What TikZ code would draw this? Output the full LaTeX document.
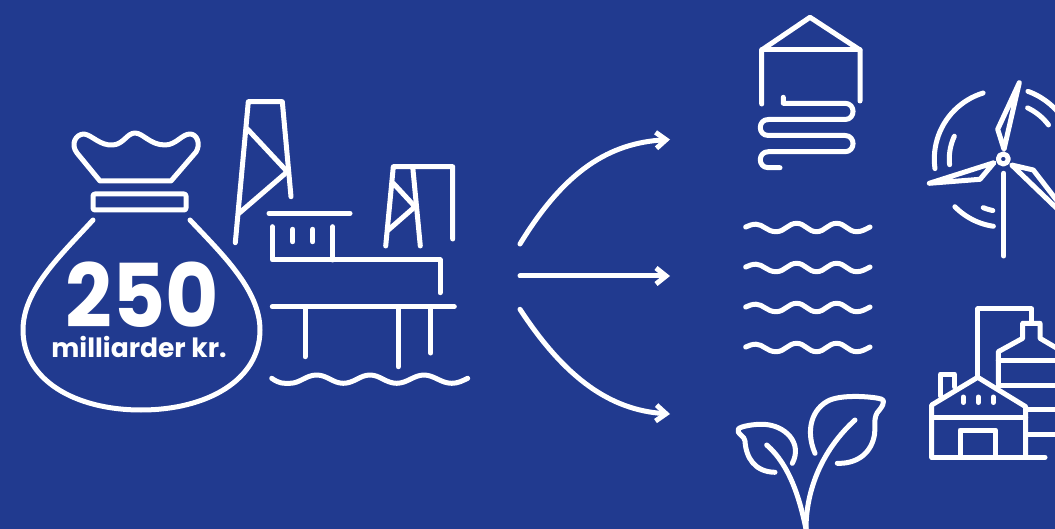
\documentclass[tikz,border=0pt]{standalone}
\usepackage{fontspec}
\setmainfont{Poppins}
\usetikzlibrary{arrows.meta}
\definecolor{bgblue}{RGB}{33,58,143}
\tikzset{
  ln/.style={draw=white,line width=5pt,line cap=round,line join=round},
  arrowline/.style={ln,-{Straight Barb[length=10pt,width=16pt,line width=5pt]}},
  bigtxt/.style={text=white,inner sep=0pt,anchor=base,xscale=0.93,font=\bfseries\fontsize{88}{88}\selectfont},
  smalltxt/.style={text=white,inner sep=0pt,anchor=base,font=\bfseries\fontsize{26.5}{27}\selectfont}
}
\newcommand{\seawave}[1]{%
  \begin{scope}[shift={(0,#1)}]
  \draw[ln] (745.7,0) .. controls (749,-1.5) and (752,-2.8) .. (756,-2.8)
     .. controls (763,-2.8) and (767,4.7) .. (776,4.7)
     .. controls (785,4.7) and (788,-3.7) .. (796.7,-3.7)
     .. controls (805,-3.7) and (808,4.7) .. (816.5,4.7)
     .. controls (825,4.7) and (828,-3.7) .. (836.7,-3.7)
     .. controls (845,-3.7) and (848,4.7) .. (856.7,4.7)
     .. controls (862,4.7) and (866,2) .. (870,0);
  \end{scope}}
\newcommand{\turbarc}[3]{\draw[ln] plot[domain=#2:#3,samples=24] ({1003.3+#1*cos(\x)},{159-#1*sin(\x)});}
\begin{document}
\begin{tikzpicture}[x=1pt,y=-1pt]
\useasboundingbox (0,0) rectangle (1055,529);
\fill[bgblue] (0,0) rectangle (1055,529);
\clip (0,0) rectangle (1055,529);

% money bag
\draw[ln] (100,181) -- (77,153) .. controls (70,144) and (76,134) .. (84,134)
  .. controls (92,135) and (100,146) .. (113,145)
  .. controls (124,144) and (127,133) .. (135,133)
  .. controls (143,133) and (150,145) .. (165,145)
  .. controls (176,145) and (182,134) .. (190,134)
  .. controls (197,134) and (201,144) .. (196,152) -- (171,181) -- cycle;
\draw[ln,rounded corners=2pt] (93,194) rectangle (186,210);
\draw[ln] (93,220) .. controls (60,256) and (23,290) .. (23,330)
  .. controls (23,380) and (75,410) .. (141,410)
  .. controls (207,410) and (260,380) .. (260,330)
  .. controls (260,290) and (222,254) .. (190,220);
\node[bigtxt] (amount) at (142.5,328) {250};
\node[smalltxt] (unit) at (139,358) {milliarder kr.};

% oil platform
\draw[ln] (235.3,242.7) -- (248.3,101.7) -- (282.3,101.7) -- (291,196.7);
\draw[ln] (247.7,129.3) -- (287.3,171.7) -- (239,213.3);
\draw[ln] (269,213.3) -- (350,213.3);
\draw[ln] (272.3,226.7) -- (272.3,260) -- (440,260) -- (440,292.7);
\draw[ln] (332.7,226.7) -- (332.7,260);
\draw[ln] (292.7,229.3) -- (292.7,241.7);
\draw[ln] (312.7,229.3) -- (312.7,241.7);
\draw[ln] (385.7,246) -- (393.3,166.7) -- (452.7,166.7) -- (452.7,239);
\draw[ln] (412.7,166.7) -- (420.3,246);
\draw[ln] (393.3,183.3) -- (415,206.7) -- (388.3,230);
\draw[ln] (272.3,306.7) -- (454.3,306.7);
\draw[ln] (305,306.7) -- (305,356.7);
\draw[ln] (398.3,306.7) -- (398.3,366.7);
\draw[ln] (430.7,306.7) -- (430.7,353);
\draw[ln] (271.7,378.3) .. controls (280,384) and (283,383.3) .. (290,383.3)
  .. controls (300,383.3) and (306,375) .. (316.7,375)
  .. controls (327,375) and (333,383.3) .. (343.3,383.3)
  .. controls (354,383.3) and (360,375) .. (370,375)
  .. controls (380,375) and (386,383.3) .. (396.7,383.3)
  .. controls (407,383.3) and (414,375) .. (424,375)
  .. controls (434,375) and (441,383.3) .. (451.7,383.3)
  .. controls (458,383.3) and (462,381) .. (467.7,378.3);

% arrows
\coordinate (a1s) at (520,244);
\coordinate (a1e) at (670,139.5);
\coordinate (a2s) at (520,276);
\coordinate (a2e) at (670,276);
\coordinate (a3s) at (520,309.3);
\coordinate (a3e) at (670,414);
\draw[arrowline] (a1s) .. controls (565,170) and (610,143) .. (a1e);
\draw[arrowline] (a2s) -- (a2e);
\draw[arrowline] (a3s) .. controls (565,378) and (610,410) .. (a3e);

% house with ground coil
\draw[ln] (761.7,104) -- (761.7,50) -- (810,17.3) -- (860,50) -- (860,101);
\draw[ln] (761.7,50) -- (860,50);
\draw[ln] (783.3,97.3) -- (783.3,103.3) -- (845,103.3)
  .. controls (855.7,103.3) and (855.7,119.5) .. (845,119.5)
  -- (768.3,119.5)
  .. controls (757.6,119.5) and (757.6,135.5) .. (768.3,135.5)
  -- (845,135.5)
  .. controls (855.7,135.5) and (855.7,151.7) .. (845,151.7)
  -- (768.3,151.7)
  .. controls (757.6,151.7) and (757.6,167.7) .. (768.3,167.7)
  -- (780,167.7);

% water
\seawave{227}
\seawave{267}
\seawave{307}
\seawave{347}

% wind turbine
\draw[ln] (1003.3,159) circle[radius=5];
\draw[ln] (1003.7,173.3) -- (1003.7,256);
\draw[ln] (1019.3,82.7) -- (997.7,129.3) -- (1004,149.3) -- cycle;
\draw[ln] (929.3,183.3) -- (994,162.7) -- (980,179.3) -- cycle;
\draw[ln] (1011.7,165) -- (1033.3,170) -- (1081,231.7) -- cycle;
\turbarc{69}{107}{188}
\turbarc{54}{155}{186}
\turbarc{72}{70}{40}
\turbarc{56.6}{64.6}{37}
\turbarc{68}{224.6}{261.6}
\turbarc{52.6}{247.5}{258.5}

% plant
\draw[ln] (806,529) .. controls (800,500) and (790,465) .. (766.7,445);
\draw[ln] (806,529) .. controls (806,490) and (822,450) .. (855,420);
\draw[ln] (775,472.3) .. controls (755,472) and (746,458) .. (745,441)
  .. controls (745,436) and (736,434) .. (738.3,429)
  .. controls (741,426) and (755,424) .. (763.3,424.3)
  .. controls (785,425) and (803,443) .. (792.3,463.3);
\draw[ln] (815,453.3) .. controls (805,430) and (812,408) .. (830,400)
  .. controls (845,394) and (875,397) .. (881,399)
  .. controls (887,401) and (881,408) .. (877,413)
  .. controls (873,420) and (876,430) .. (874,437)
  .. controls (870,455) and (855,464) .. (837.3,463.3);

% factory
\draw[ln] (931.7,457.3) -- (931.7,405) -- (977.7,377.3) -- (1025.7,406.7) -- (1025.7,457.3);
\draw[ln] (931.7,457.3) -- (1045,457.3);
\draw[ln] (931.7,417.3) -- (1025.7,417.3);
\draw[ln] (960,457.3) -- (960,430) -- (995.7,430) -- (995.7,457.3);
\draw[ln] (963.3,397) -- (963.3,402.5);
\draw[ln] (978.3,397) -- (978.3,402.5);
\draw[ln] (993.3,397) -- (993.3,402.5);
\draw[ln] (940.7,396) -- (940.7,374) -- (954.3,374) -- (954.3,386.7);
\draw[ln] (977.7,377.3) -- (977.7,309) -- (1031.7,309) -- (1031.7,323);
\draw[ln] (998.3,383.3) -- (998.3,351.7) -- (1022.7,338.3) -- (1022.7,323.3) -- (1040,323.3) -- (1040,338.3) -- (1065,353);
\draw[ln] (998.3,360) -- (1060,360);
\draw[ln] (998.3,385) -- (1060,385);
\draw[ln] (1025.7,409.3) -- (1060,409.3);
\draw[ln] (1025.7,434.3) -- (1060,434.3);
\end{tikzpicture}
\end{document}
